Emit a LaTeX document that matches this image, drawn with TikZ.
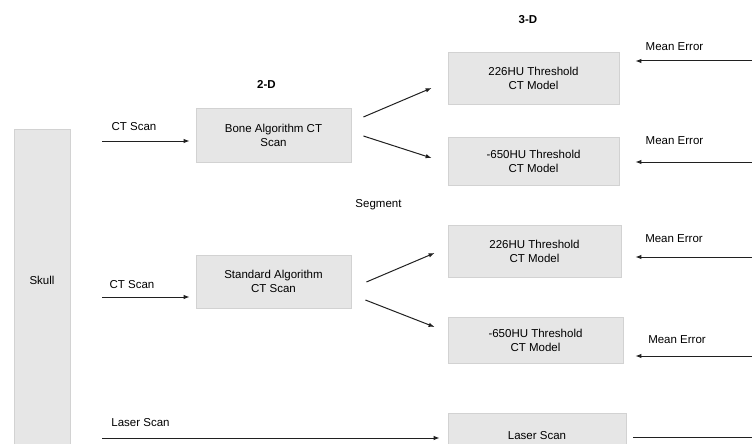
\documentclass[tikz,border=0pt]{standalone}
\usepackage{fontspec}
\setmainfont{Liberation Sans}
\usetikzlibrary{arrows.meta}
\definecolor{boxfill}{HTML}{E6E6E6}
\definecolor{boxline}{HTML}{D2D2D2}
\definecolor{wire}{HTML}{202020}
\tikzset{
  box/.style={draw=boxline, fill=boxfill, line width=0.8pt, align=center, inner sep=0pt},
  lbl/.style={inner sep=0pt},
  hdr/.style={inner sep=0pt, font=\fontsize{11.5}{14}\selectfont\bfseries},
  wireline/.style={draw=wire, line width=1pt},
  arr/.style={wireline, -{Latex[length=6pt,width=4.5pt]}}
}

\begin{document}
\begin{tikzpicture}[x=1pt, y=-1pt, font=\fontsize{11.5}{14}\selectfont]
\clip (0,0) rectangle (752,444);

% columna izquierda
\node[box, minimum width=56pt, minimum height=340pt] (skull) at (42,299) {};
\node[lbl] (skulltxt) at (42,280) {Skull};

% 2-D
\node[hdr] (dosd) at (266.5,84.5) {2-D};
\node[box, minimum width=155pt, minimum height=54pt] (bone) at (273.5,135) {Bone Algorithm CT\\Scan};
\node[box, minimum width=155pt, minimum height=53pt] (std) at (273.5,281.5) {Standard Algorithm\\CT Scan};

% 3-D
\node[hdr] (tresd) at (528,20) {3-D};
\node[box, minimum width=171pt, minimum height=52pt] (thrA) at (533.5,78) {226HU Threshold\\CT Model};
\node[box, minimum width=171pt, minimum height=48pt] (negA) at (533.5,161) {-650HU Threshold\\CT Model};
\node[box, minimum width=173pt, minimum height=52pt] (thrB) at (534.5,251) {226HU Threshold\\CT Model};
\node[box, minimum width=175pt, minimum height=46pt] (negB) at (535.5,340) {-650HU Threshold\\CT Model};
\node[box, minimum width=178pt, minimum height=46pt] (laser) at (537,436) {Laser Scan};

% etiquetas
\node[lbl] (seg) at (378.5,205) {Segment};
\node[lbl] (ctA) at (134,127) {CT Scan};
\node[lbl] (ctB) at (132,285) {CT Scan};
\node[lbl] (lsr) at (140.5,423) {Laser Scan};
\node[lbl] (meA) at (674.5,47) {Mean Error};
\node[lbl] (meB) at (674.5,141) {Mean Error};
\node[lbl] (meC) at (674,239) {Mean Error};
\node[lbl] (meD) at (677,339.5) {Mean Error};

% entradas
\coordinate (inA) at (102,141);
\coordinate (inB) at (102,297);
\coordinate (inC) at (102,438);
\draw[arr, shorten >=6pt] (inA) -- (inA -| bone.west);
\draw[arr, shorten >=6pt] (inB) -- (inB -| std.west);
\draw[arr, shorten >=8pt] (inC) -- (inC -| laser.west);

% segmentacion
\draw[arr] ([xshift=12pt,yshift=18pt]bone.east) -- ([xshift=-16pt,yshift=-10pt]thrA.west);
\draw[arr] ([xshift=12pt,yshift=-1pt]bone.east) -- ([xshift=-16pt,yshift=3pt]negA.west);
\draw[arr] ([xshift=15pt,yshift=-0.5pt]std.east) -- ([xshift=-13pt,yshift=-2pt]thrB.west);
\draw[arr] ([xshift=14pt,yshift=-18.5pt]std.east) -- ([xshift=-13pt,yshift=13pt]negB.west);

% error medio (salen del borde)
\coordinate (eA) at (760,61);
\coordinate (eB) at (760,162);
\coordinate (eC) at (760,257);
\coordinate (eD) at (760,356);
\coordinate (eL) at (760,437);
\draw[arr, shorten >=16pt] (eA) -- (eA -| thrA.east);
\draw[arr, shorten >=16pt] (eB) -- (eB -| negA.east);
\draw[arr, shorten >=14pt] (eC) -- (eC -| thrB.east);
\draw[arr, shorten >=12pt] (eD) -- (eD -| negB.east);
\draw[wireline, shorten <=7pt] (eL -| laser.east) -- (eL);
\end{tikzpicture}
\end{document}
